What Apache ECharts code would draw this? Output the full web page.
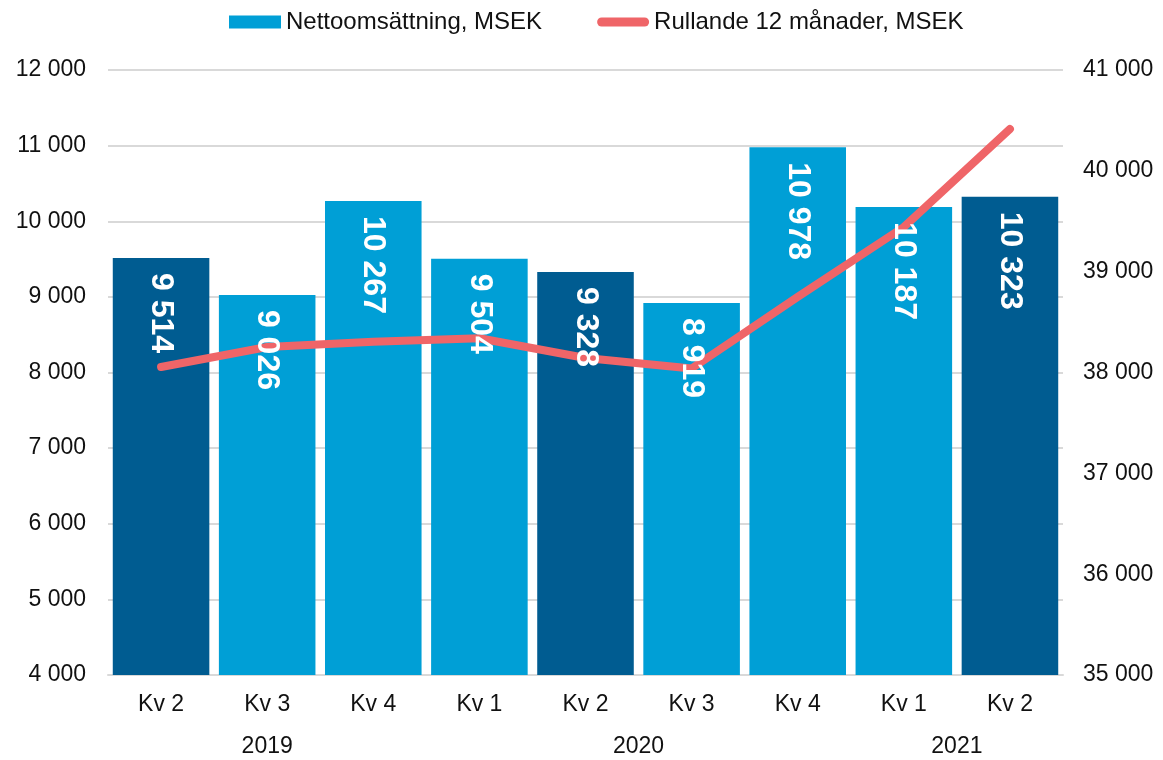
<!DOCTYPE html>
<html>
<head>
<meta charset="utf-8">
<script src="https://cdn.jsdelivr.net/npm/echarts@6/dist/echarts.min.js"></script>
<style>
  html, body { margin: 0; padding: 0; background: #fff; }
  #chart { width: 1163px; height: 760px; }
</style>
</head>
<body>
<div id="chart"></div>
<script>
// data
const quarters = ['Kv 2', 'Kv 3', 'Kv 4', 'Kv 1', 'Kv 2', 'Kv 3', 'Kv 4', 'Kv 1', 'Kv 2'];
const yearGroups = [['2019', 3], ['2020', 4], ['2021', 2]];
const netSales = [9514, 9026, 10267, 9504, 9328, 8919, 10978, 10187, 10323];
const rolling12 = [38054, 38253, 38305, 38340, 38144, 38040, 38750, 39443, 40415];

const DARK = '#005C91';
const LIGHT = '#009FD6';
const RED = '#EF6568';
const FONT = '"Liberation Sans", Arial, sans-serif';

// year label positions on a 0..n value scale (centre of each group)
const yearAt = {};
let start = 0;
yearGroups.forEach(([y, n]) => {
  yearAt[(start + n / 2).toFixed(1)] = y;
  start += n;
});

const fmt = v => String(v).replace(/\B(?=(\d{3})+(?!\d))/g, ' ');

// thick rounded line used as legend icon for the line series
const lineIcon = 'path://M5,0 L53,0 A5,5 0 0 1 53,10 L5,10 A5,5 0 0 1 5,0 Z';

const chart = echarts.init(document.getElementById('chart'));
chart.setOption({
  animation: false,
  textStyle: { fontFamily: FONT },
  legend: {
    top: 5,
    left: 224,
    itemWidth: 52,
    itemHeight: 13,
    itemGap: 55,
    textStyle: { fontSize: 24, color: '#111', fontFamily: FONT },
    data: [
      { name: 'Nettoomsättning, MSEK', icon: 'rect', itemStyle: { color: LIGHT } },
      { name: 'Rullande 12 månader, MSEK', icon: lineIcon, itemStyle: { color: RED } }
    ]
  },
  grid: { left: 108, right: 100, top: 70, bottom: 85 },
  xAxis: [
    {
      type: 'category',
      data: quarters,
      axisLine: { lineStyle: { color: '#D9D9D9', width: 2 } },
      axisTick: { show: false },
      axisLabel: { fontSize: 23, color: '#111', margin: 18, interval: 0 }
    },
    {
      type: 'value',
      position: 'bottom',
      min: 0,
      max: quarters.length,
      interval: 0.5,
      axisLine: { show: false },
      axisTick: { show: false },
      splitLine: { show: false },
      axisLabel: {
        fontSize: 23, color: '#111', margin: 60,
        showMinLabel: true, showMaxLabel: true,
        formatter: v => yearAt[v.toFixed(1)] || ''
      }
    }
  ],
  yAxis: [
    {
      type: 'value',
      min: 4000,
      max: 12000,
      interval: 1000,
      axisLine: { show: false },
      axisTick: { show: false },
      axisLabel: { fontSize: 23, color: '#111', margin: 22, formatter: fmt },
      splitLine: { lineStyle: { color: '#D9D9D9', width: 2 } }
    },
    {
      type: 'value',
      min: 35000,
      max: 41000,
      interval: 1000,
      axisLine: { show: false },
      axisTick: { show: false },
      axisLabel: { fontSize: 23, color: '#111', margin: 20, formatter: fmt },
      splitLine: { show: false }
    }
  ],
  series: [
    {
      name: 'Nettoomsättning, MSEK',
      type: 'bar',
      data: netSales,
      barCategoryGap: '9%',
      barGap: '-100%',
      z: 2,
      itemStyle: {
        color: p => (p.name === 'Kv 2' ? DARK : LIGHT)
      }
    },
    {
      name: 'Rullande 12 månader, MSEK',
      type: 'line',
      yAxisIndex: 1,
      data: rolling12,
      symbol: 'none',
      z: 3,
      lineStyle: { color: RED, width: 8, cap: 'round', join: 'round' },
      itemStyle: { color: RED }
    },
    {
      // value labels, drawn above the line
      name: 'labels',
      type: 'bar',
      data: netSales,
      barCategoryGap: '9%',
      barGap: '-100%',
      z: 4,
      silent: true,
      itemStyle: { color: 'rgba(0,0,0,0)' },
      label: {
        show: true,
        position: 'insideTop',
        distance: 15,
        rotate: -90,
        align: 'left',
        verticalAlign: 'middle',
        color: '#fff',
        fontWeight: 'bold',
        fontSize: 32,
        fontFamily: FONT,
        formatter: p => fmt(p.value)
      }
    }
  ]
});
</script>
</body>
</html>
